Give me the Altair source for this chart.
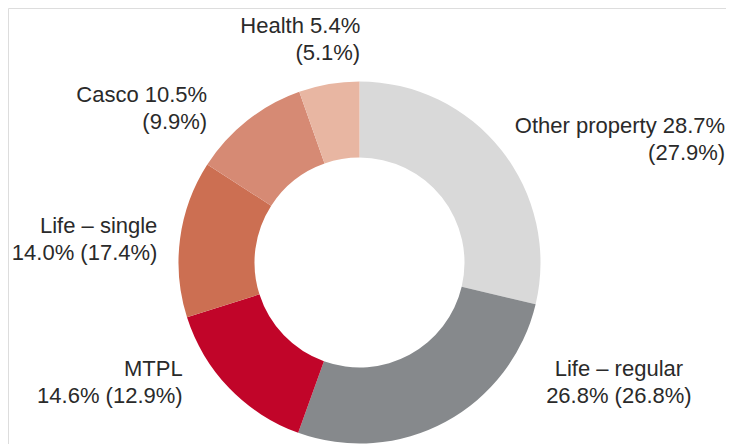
import altair as alt
import pandas as pd

# ---- data ----
categories = ["Other property", "Life – regular", "MTPL", "Life – single", "Casco", "Health"]
shares = [28.7, 26.8, 14.6, 14.0, 10.5, 5.4]          # current year, %
prev_shares = [27.9, 26.8, 12.9, 17.4, 9.9, 5.1]      # previous year, % (in brackets)
colors = ["#d9d9d9", "#86898c", "#c10529", "#cc6f52", "#d68a74", "#e8b6a2"]

# ---- label layout (style only) ----
# split: where the line break goes; align; pixel nudges from the slice's mid-angle anchor
label_layout = {
    "Other property": dict(split="value", align="right", dx=197, dy=4),
    "Life – regular": dict(split="name", align="center", dx=157, dy=-76),
    "MTPL": dict(split="name", align="right", dx=-22, dy=-36),
    "Life – single": dict(split="name", align="right", dx=11, dy=-1),
    "Casco": dict(split="value", align="right", dx=-19, dy=8),
    "Health": dict(split="value", align="right", dx=37, dy=-18),
}


def make_label(name, s, p, split):
    if split == "name":
        first = name + ("\u00a0" if name == "Life – single" else "")
        return f"{first}\n{s:.1f}% ({p:.1f}%)"
    return f"{name} {s:.1f}%\n({p:.1f}%)"


df = pd.DataFrame({
    "idx": list(range(len(categories))),
    "category": categories,
    "value": shares,
    "prev": prev_shares,
})
df["label"] = [make_label(c, s, p, label_layout[c]["split"])
               for c, s, p in zip(categories, shares, prev_shares)]

CX, CY = 351.5, 254.5
theta_scale = alt.Scale(domain=[0, 100])

base = alt.Chart(df)

arcs = base.mark_arc(outerRadius=181, innerRadius=105).encode(
    x=alt.value(CX),
    y=alt.value(CY),
    theta=alt.Theta("value:Q", stack=True, scale=theta_scale),
    color=alt.Color("category:N", scale=alt.Scale(domain=categories, range=colors), legend=None),
    order=alt.Order("idx:Q"),
)

layers = [arcs]
for cat in categories:
    lay = label_layout[cat]
    t = (
        base.transform_window(
            cum="sum(value)", sort=[alt.SortField("idx")], frame=[None, 0]
        )
        .transform_calculate(mid="datum.cum - datum.value / 2")
        .transform_filter(alt.datum.category == cat)
        .mark_text(
            font="Liberation Sans, Arial, sans-serif",
            fontSize=22,
            lineHeight=27,
            lineBreak="\n",
            color="#2a2a2a",
            align=lay["align"],
            baseline="alphabetic",
            dx=lay["dx"],
            dy=lay["dy"],
        )
        .encode(
            x=alt.value(CX),
            y=alt.value(CY),
            theta=alt.Theta("mid:Q", stack=None, scale=theta_scale),
            radius=alt.value(215),
            text="label:N",
        )
    )
    layers.append(t)

chart = (
    alt.layer(*layers)
    .properties(width=718, height=436, padding=0, autosize=alt.AutoSizeParams(type="none"))
    .configure_view(stroke=None)
    .configure(background="white")
)

chart.save("out.html", embed_options={"renderer": "svg", "actions": False})
